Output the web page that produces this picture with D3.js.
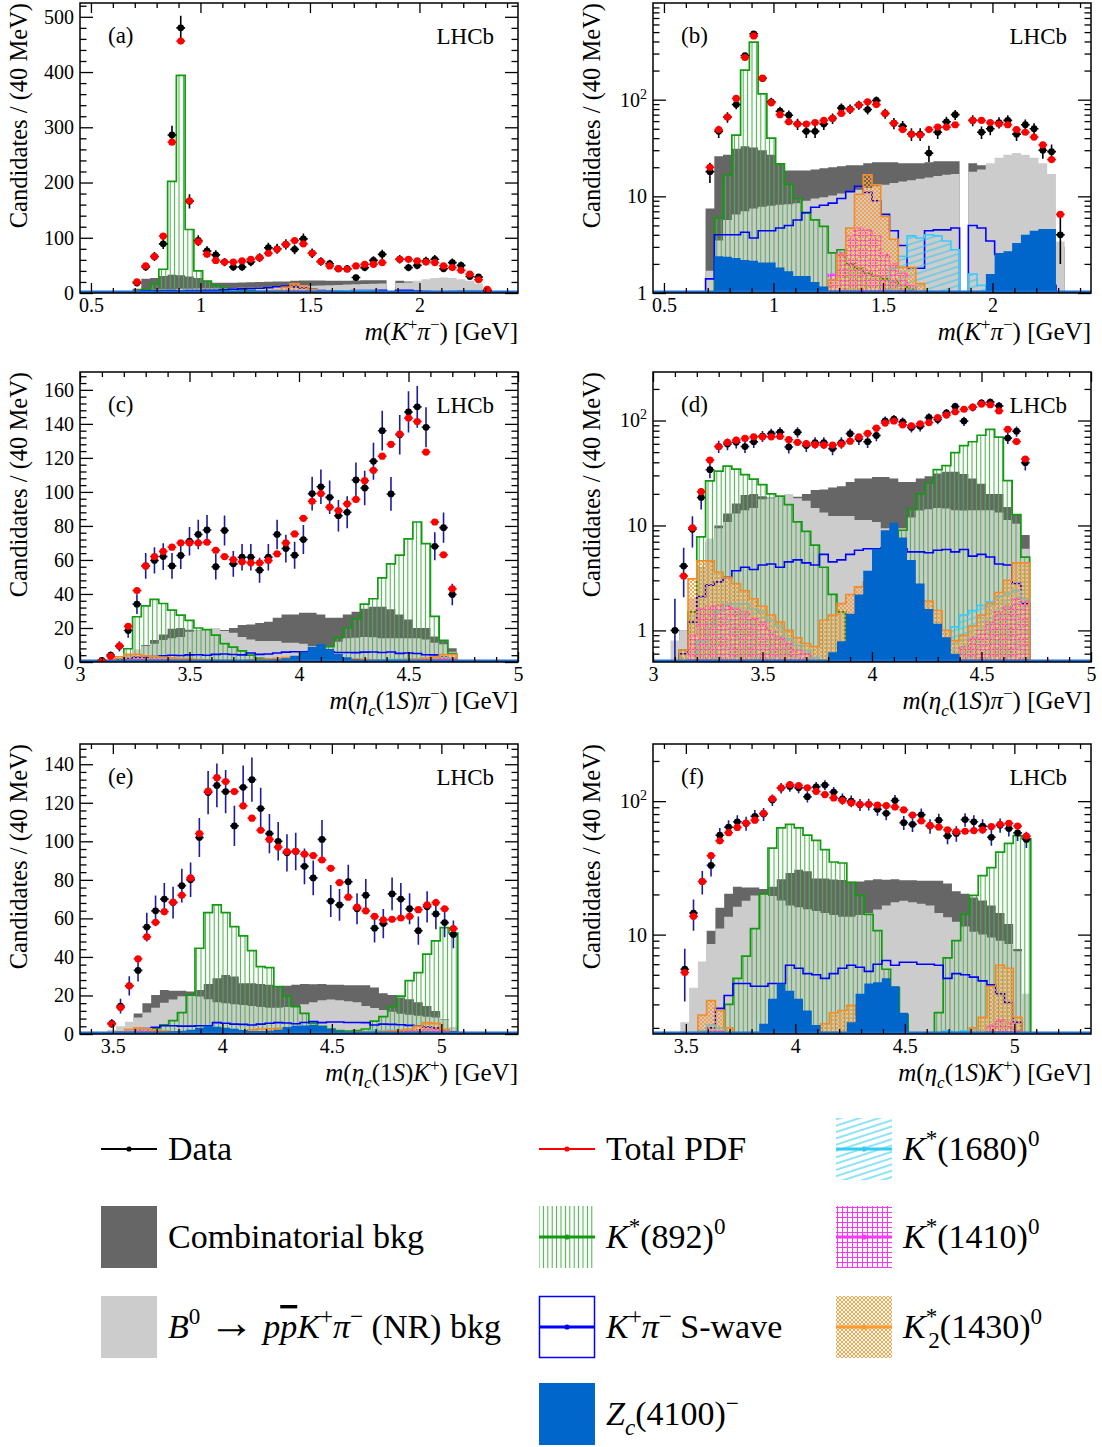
<!DOCTYPE html>
<html>
<head>
<meta charset="utf-8">
<script src="https://cdnjs.cloudflare.com/ajax/libs/d3/7.8.5/d3.min.js"></script>
<style>
  body { margin: 0; background: #fff; }
  svg text { font-family: "Liberation Serif", "Times New Roman", serif; fill: #000; }
</style>
</head>
<body>
<svg id="chart"></svg>
<script>
// bin centres (40 MeV bins)
const binW = 0.04;
const kpMass = [0.71,0.75,0.79,0.83,0.87,0.91,0.95,0.99,1.03,1.07,1.11,1.15,1.19,1.23,1.27,1.31,1.35,1.39,1.43,1.47,1.51,1.55,1.59,1.63,1.67,1.71,1.75,1.79,1.83,1.87,1.91,1.95,1.99,2.03,2.07,2.11,2.15,2.19,2.23,2.27,2.31];
const epMass = [3.10,3.14,3.18,3.22,3.26,3.30,3.34,3.38,3.42,3.46,3.50,3.54,3.58,3.62,3.66,3.70,3.74,3.78,3.82,3.86,3.90,3.94,3.98,4.02,4.06,4.10,4.14,4.18,4.22,4.26,4.30,4.34,4.38,4.42,4.46,4.50,4.54,4.58,4.62,4.66,4.70];
const ekMass = [3.495,3.535,3.575,3.615,3.655,3.695,3.735,3.775,3.815,3.855,3.895,3.935,3.975,4.015,4.055,4.095,4.135,4.175,4.215,4.255,4.295,4.335,4.375,4.415,4.455,4.495,4.535,4.575,4.615,4.655,4.695,4.735,4.775,4.815,4.855,4.895,4.935,4.975,5.015,5.055];

// m(K+ pi-)
const kpData  = [18,47,66,89,286,480,166,95,76,69,56,47,47,56,64,82,80,88,79,98,72,57,53,44,44,28,46,59,70,null,61,46,50,58,61,44,55,50,30,29,4];
const kpPdf   = [20,49,66,103,273,456,167,93,70,59,56,56,58,61,64,72,79,88,95,89,72,57,49,44,43,49,52,52,55,null,61,61,58,56,55,49,46,41,34,24,6.5];
const kpComb  = [7.5,26,27,31,33,32,30,27,22,18.5,18.5,18.5,19,19.5,20,20.5,21,21,22,22.5,22.5,22.5,22,22,22,22.5,23,23,23,0,22,21,17,14,12,10,8,6,5,4,3];
const kpNR    = [1.7,3.5,5.7,6.5,7,7.5,7.8,8,8.2,8.3,8.5,9,9.5,9.8,10.2,10.7,11.2,11.7,12.2,12.7,13.2,13.7,14.2,14.7,15.2,15.7,16.2,16.7,17,0,18,19,22,25,27,28,27,25,22,17,3.4];
const kpK892  = [0,6,16.5,43,202,394,115,40,21.7,13.3,9.5,6.7,5.7,4.9,2.6,2.8,2,1.8,1.6,1.5,1.4,1.3,1.2,1.1,1,0.9,0.8,0.8,0.7,0,0.6,0.5,0.5,0.4,0.4,0.3,0.3,0.3,0.2,0.2,0.2];
const kpSwave = [1.4,4,4,4,4.25,3.7,4.4,4.4,4.7,5,5.7,6.8,7.7,8.1,8.5,9.5,11.2,12.7,11,9,6.5,4.4,3.1,1.8,1.8,4.4,4.5,4.5,4.7,0,5,4.7,3.45,2.5,2.2,2,1.8,1.6,1.4,1.2,1];
const kpK1680 = [0,0,0,0,0,0,0,0,0,0,0,0,0,0,0,0,0,0,0,0,0,1.8,2.4,3.9,3.7,4,3.9,3.45,2.8,0,1.57,1.2,0,0,0,0,0,0,0,0,0];
const kpK1410 = [0,0,0,0,0,0,0,0,0,0,0,0,0,0,1.57,2.6,3.9,4.7,4.5,3.9,2.5,2,1.6,1.2,0,0,0,0,0,0,0,0,0,0,0,0,0,0,0,0,0];
const kpK1430 = [0,0,0,0,0,0,0,0,0,0,0,0,0,0,1.37,2.5,4.7,10.5,16.7,13.2,6.2,3.6,1.84,1.84,1.25,0,0,0,0,0,0,0,0,0,0,0,0,0,0,0,0];
const kpZc    = [0,2.4,2.37,2.3,2.2,2.15,2.07,2.07,1.84,1.68,1.5,1.5,1.3,1.17,1.05,0.9,0.8,0.7,0.6,0.5,0.5,0.5,0.5,0.5,0.5,0.5,0.5,0.5,0.5,0,0.6,0.8,1.57,2.6,2.7,3.3,4,4.4,4.6,4.6,0];

// m(eta_c(1S) pi-)
const epData  = [1,4.1,9.2,18.5,34,56.5,59.7,62,56.5,62.6,71,75,77.6,56,77.3,57.7,61.6,61.6,54,61.6,75,66.7,62.8,72,99,103,96.8,86,88,107,102.3,118,136,98.8,133.6,147,150,138,68,79,39.7];
const epPdf   = [0.4,3.3,9.5,21,42,56.5,62,65,67.5,70,70,70,70.4,65.7,62,60.2,58.9,58.3,58.3,59.7,63.6,70,75.3,84.5,94.5,99,91,89,93,95.6,106.6,112.7,121,128,134,143.4,141.4,123.4,82.3,63,43];
const epComb  = [0.5,1,2,4,7,10,13,16.2,19.5,20,19,18.5,18.5,19,18.8,20,21.8,22,23,23.7,26,28,28,29,29,28,26,26,28,29.5,31.3,32.5,32.5,31,28,25,20,20,15,12.6,8.1];
const epNR    = [0.8,1,2,4,7.5,9.4,10.8,13,14,14.7,17.8,18.2,19,20,18.2,17.2,14.7,13.3,12.3,12.3,12.3,11.3,11.3,10.8,9.4,8.4,9.4,11.9,13.9,14.3,14.7,14.5,14,13.9,14,14,14,13.3,11.3,10.4,6];
const epK892  = [0,0.65,1.5,7.8,26.6,33,36.8,34.4,30.5,27.6,24.5,20,19,15.8,10.8,8.8,6.5,4,2.2,1.5,0.8,0.7,0.7,0.8,1,3,9,14.3,20,25.4,34,37.2,49.5,57.7,62.8,72.4,82.3,69.6,26.8,12.7,5];
const epSwave = [0.3,0.6,1.2,2.1,2.7,2.9,3.2,3.7,4,3.8,4.2,4.3,4,4.5,4.7,4.4,4.2,5.3,4.5,4.7,5.3,5.8,6,6,6.1,6.1,6,5.6,5.6,5.5,5.8,5.9,5.6,5.9,5.1,5.3,5,4.3,4.2,2.8,1.8];
const epK1680 = [0.2,0.3,0.5,0.8,1.15,1.55,1.77,1.8,1.8,1.6,1.5,1.25,1.1,0.83,0.72,0.64,0.55,0.45,0.4,0.3,0.3,0.3,0.3,0.3,0.3,0.3,0.3,0.3,0.4,0.5,0.6,0.8,1.08,1.4,1.55,1.73,1.87,2.1,2.25,2.4,2];
const epK1410 = [0.2,0.4,0.9,1.6,1.7,1.75,1.7,1.6,1.5,1.3,1.2,1,0.85,0.75,0.65,0.6,0.5,0.4,0.3,0.3,0.3,0.3,0.3,0.3,0.3,0.3,0.3,0.3,0.3,0.3,0.3,0.4,0.5,0.7,0.85,1,1.2,1.5,1.7,2,1.9];
const epK1430 = [0.4,0.65,3.1,4.6,4.6,3.6,3.2,2.8,2.4,2,1.7,1.4,1.2,1,0.85,0.75,0.7,1.25,1.4,1.8,2.2,2.6,2.9,2.5,2.3,2.2,2.1,2,1.9,1.9,1.55,1,0.8,0.9,1.1,1.4,1.8,2.3,3,4.4,4.4];
const epZc    = [0.3,0.3,0.3,0.3,0.3,0.3,0.3,0.3,0.3,0.3,0.3,0.3,0.3,0.3,0.3,0.3,0.3,0.4,0.62,0.79,1.44,2.2,3.7,6,9,10.6,7.7,4.7,2.8,1.6,1.16,0.86,0.6,0.5,0.4,0.3,0.3,0.3,0.3,0.3,0.3];

// m(eta_c(1S) K+)
const ekData  = [5.5,14.5,25,33,55.5,63.9,70,68.2,77,80,102,125.3,129,125.8,108,128,132,117,104,100,94,94.7,87,81,101,69,67,79,65,72,54.9,57.3,72.7,70,65,53.6,66,62.3,57.8,51.7];
const ekPdf   = [5.2,13.7,25,39,50.4,58,63.5,68.4,72,81,104,126,133,131,125.8,118.4,112,105.7,101,97,94.7,94.8,93.3,92.6,90.3,86,78.6,71,65.8,63.9,61,59.2,59.5,60.2,61,64.5,67,68.2,65,54.7];
const ekComb  = [0.5,1.5,4,10.7,15.9,20.2,22.8,22.5,22.5,22,22.8,26,28.9,30.6,29.8,26.3,26.3,25.9,25.6,24.9,25,25.5,26,25.8,26,25.5,25.5,25.3,25.3,25.3,24.1,21.1,20.2,19,18,16.5,14.5,12,7.8,3];
const ekNR    = [2.2,4,6.3,8.5,11.1,13.6,16.2,17.9,19.6,20,19.5,18,16.5,16,15.5,15,14.5,14,13.6,13.6,14,14.5,15.4,16.5,17.5,17.9,17.5,17,16.5,14.5,13.5,12.5,11.5,10.5,10,9.5,9,8.5,7.5,3.6];
const ekK892  = [0,0,0,0.8,1.5,3,4.7,6.9,11.1,20.2,44.5,63,67,63,55.7,50.9,43.3,35,34.4,24.6,19.7,14.2,10.7,5.5,4,2.5,1.8,1.5,1.8,2.6,6.7,9,14.2,19.7,27.7,31.8,41.5,48.3,55.2,52.3];
const ekSwave = [0.6,0.9,1.4,2,2.8,3.5,4.3,4.3,4.1,4.1,4.3,4.3,5.9,5.6,5.1,5,4.7,5.1,5.6,5.9,5.7,5.3,6,6.4,5.9,6.2,6.2,6,6,5.9,4.7,5.1,5,4.8,4.5,4.2,3.6,3.1,2.2,1.2];
const ekK1680 = [0.3,0.8,1.9,2.1,2,1.6,1.3,1,0.8,0.6,0.5,0.5,0.5,0.5,0.5,0.5,0.5,0.5,0.5,0.5,0.5,0.5,0.5,0.5,0.5,0.5,0.5,0.6,0.8,1.2,1.9,1.7,1.9,1.95,1.8,1.6,1.4,1.2,1,0.8];
const ekK1410 = [0.3,0.6,1.2,1.9,1.9,1.5,1.2,1,0.8,0.7,0.6,0.5,0.5,0.5,0.5,0.5,0.5,0.5,0.5,0.5,0.5,0.5,0.5,0.5,0.5,0.5,0.5,0.5,0.6,0.7,0.8,1,1.2,1.5,1.8,2.1,2.3,2.2,1.9,0.8];
const ekK1430 = [0.5,1,2.5,3.2,2.7,2,1.5,1.2,1,0.9,0.8,0.8,0.9,1,1.2,1.5,2.15,2.6,2.7,2.95,2.5,2,1.5,1.2,1,0.9,0.8,0.8,0.9,1,1.2,1.4,1.7,2,2.4,4.1,5.9,5.6,2.4,0.8];
const ekZc    = [0.5,0.5,0.5,0.5,0.8,1,1.2,1.4,1.7,2.15,3.3,4.3,3.8,3.3,2.7,2.1,1.6,1.5,1.7,2.2,3.6,4.3,4.4,4.7,4.1,2.6,1.5,1,0.6,0.5,0.5,0.5,0.5,0.5,0.5,0.5,0.5,0.5,0.5,0.5];

// axis ticks
const kpXTicks = [0.5, 1, 1.5, 2];
const epXTicks = [3, 3.5, 4, 4.5, 5];
const ekXTicks = [3.5, 4, 4.5, 5];
const linYTicksA = [0, 100, 200, 300, 400, 500];
const linYTicksC = [0, 20, 40, 60, 80, 100, 120, 140, 160];
const linYTicksE = [0, 20, 40, 60, 80, 100, 120, 140];

function makeSet(mass, data, pdf, comb, nr, k892, swave, k1680, k1410, k1430, zc) {
    return { mass, data, pdf, comb, nr, k892, swave, k1680, k1410, k1430, zc };
}
const kp = makeSet(kpMass, kpData, kpPdf, kpComb, kpNR, kpK892, kpSwave, kpK1680, kpK1410, kpK1430, kpZc);
const ep = makeSet(epMass, epData, epPdf, epComb, epNR, epK892, epSwave, epK1680, epK1410, epK1430, epZc);
const ek = makeSet(ekMass, ekData, ekPdf, ekComb, ekNR, ekK892, ekSwave, ekK1680, ekK1410, ekK1430, ekZc);

const titleKp = [{t:"m",i:1},{t:"("},{t:"K",i:1},{t:"+",sup:1},{t:"π",i:1},{t:"−",sup:1},{t:") [GeV]"}];
const titleEp = [{t:"m",i:1},{t:"("},{t:"η",i:1},{t:"c",i:1,sub:1},{t:"(1"},{t:"S",i:1},{t:")"},{t:"π",i:1},{t:"−",sup:1},{t:") [GeV]"}];
const titleEk = [{t:"m",i:1},{t:"("},{t:"η",i:1},{t:"c",i:1,sub:1},{t:"(1"},{t:"S",i:1},{t:")"},{t:"K",i:1},{t:"+",sup:1},{t:") [GeV]"}];

// 画布
const svg = d3.select("#chart").attr("width", 1102).attr("height", 1447);
const defs = svg.append("defs");

function pattern(id, w, h, d, color, sw, tr) {
    const p = defs.append("pattern").attr("id", id)
        .attr("patternUnits", "userSpaceOnUse").attr("width", w).attr("height", h);
    if (tr) p.attr("patternTransform", tr);
    p.append("path").attr("d", d).attr("stroke", color).attr("stroke-width", sw).attr("fill", "none");
}
pattern("hK892", 4.4, 8, "M2.2,0V8", "#4caf4c", 1.1);
pattern("hK1680", 8, 6, "M0,3H8", "#33ccee", 1.1, "rotate(-18)");
pattern("hK1410", 5, 5, "M0,2.5H5M2.5,0V5", "#ff33ff", 1);
pattern("hK1430", 4, 4, "M0,0L4,4M4,0L0,4", "#ff9933", 0.9);

// 组件样式（绘制顺序）
const comps = [
    { key: "comb",  fill: "#666666", stroke: "none" },
    { key: "nr",    fill: "#cccccc", stroke: "none" },
    { key: "k892",  fill: "url(#hK892)", stroke: "#139a13", sw: 1.7 },
    { key: "swave", fill: "none", stroke: "#0000ff", sw: 1.6 },
    { key: "k1680", fill: "url(#hK1680)", stroke: "#33ccff", sw: 1.6 },
    { key: "k1410", fill: "url(#hK1410)", stroke: "#ff33ff", sw: 1.3, dash: "4,2" },
    { key: "k1430", fill: "url(#hK1430)", stroke: "#f28c28", sw: 1.6 },
    { key: "zc",    fill: "#0066cc", stroke: "none" }
];

function richText(sel, parts, size) {
    let shift = 0;
    parts.forEach(function (p) {
        const s = p.sup ? -0.42 * size : (p.sub ? 0.28 * size : 0);
        const ts = sel.append("tspan").text(p.t).attr("dy", s - shift);
        shift = s;
        if (p.i) ts.attr("font-style", "italic");
        if (p.sup || p.sub) ts.attr("font-size", size * 0.68);
        if (p.big) ts.attr("font-size", size * p.big);
        if (p.dx) ts.attr("dx", p.dx);
        if (p.over) ts.style("text-decoration", "overline");
    });
}

const W = 438, H = 290;

function drawPanel(cfg) {
    const ds = cfg.ds;
    const g = svg.append("g").attr("transform", "translate(" + cfg.left + "," + cfg.top + ")");
    const x = d3.scaleLinear().domain(cfg.xd).range([0, W]);
    const y = (cfg.log ? d3.scaleLog() : d3.scaleLinear()).domain(cfg.yd).range([H, 0]);
    const lo = cfg.yd[0], hi = cfg.yd[1];
    const yv = function (v) { return (v == null || v <= lo) ? H : y(Math.min(v, hi)); };

    const clipId = "clip" + cfg.id;
    defs.append("clipPath").attr("id", clipId).append("rect").attr("width", W).attr("height", H);
    const plot = g.append("g").attr("clip-path", "url(#" + clipId + ")");

    // 直方图组件
    function stepPath(vals) {
        let p = "M" + x(ds.mass[0] - binW / 2) + "," + H;
        ds.mass.forEach(function (m, i) {
            const yy = yv(vals[i]);
            p += "L" + x(m - binW / 2) + "," + yy + "L" + x(m + binW / 2) + "," + yy;
        });
        return p + "L" + x(ds.mass[ds.mass.length - 1] + binW / 2) + "," + H;
    }
    comps.forEach(function (c) {
        plot.append("path")
            .attr("d", stepPath(ds[c.key]))
            .attr("fill", c.fill)
            .attr("stroke", c.stroke)
            .attr("stroke-width", c.sw || 0)
            .attr("stroke-dasharray", c.dash || null)
            .attr("stroke-linejoin", "miter");
    });

    // 底部基线
    plot.append("line")
        .attr("x1", x(cfg.xd[0])).attr("x2", x(cfg.xd[1]))
        .attr("y1", H - 1.2).attr("y2", H - 1.2)
        .attr("stroke", "#1a6fd6").attr("stroke-width", 2.6);

    // 数据点
    const errColor = cfg.errColor;
    const pts = ds.mass.map(function (m, i) { return { m: m, v: ds.data[i], f: ds.pdf[i] }; });
    const dataPts = pts.filter(function (d) { return d.v != null && d.v > lo; });
    plot.selectAll(".err").data(dataPts).enter().append("path")
        .attr("d", function (d) {
            const e = Math.sqrt(d.v);
            const xc = x(d.m);
            return "M" + xc + "," + yv(d.v - e) + "V" + yv(d.v + e) +
                "M" + x(d.m - binW / 2) + "," + yv(d.v) + "H" + x(d.m + binW / 2);
        })
        .attr("stroke", errColor).attr("stroke-width", 1.6).attr("fill", "none");
    plot.selectAll(".dot").data(dataPts).enter().append("circle")
        .attr("cx", function (d) { return x(d.m); })
        .attr("cy", function (d) { return yv(d.v); })
        .attr("r", 3.4).attr("fill", "#000");

    const pdfPts = pts.filter(function (d) { return d.f != null && d.f > lo; });
    plot.selectAll(".pbar").data(pdfPts).enter().append("path")
        .attr("d", function (d) { return "M" + x(d.m - binW / 2) + "," + yv(d.f) + "H" + x(d.m + binW / 2); })
        .attr("stroke", "#ff0000").attr("stroke-width", 1.6);
    plot.selectAll(".pdot").data(pdfPts).enter().append("circle")
        .attr("cx", function (d) { return x(d.m); })
        .attr("cy", function (d) { return yv(d.f); })
        .attr("r", 3.6).attr("fill", "#ff0000");

    // 坐标轴
    const xMinor = d3.range(Math.ceil(cfg.xd[0] * 10) / 10, cfg.xd[1] + 1e-9, 0.1)
        .filter(function (t) { return cfg.xTicks.every(function (m) { return Math.abs(m - t) > 1e-6; }); });
    let yMajor, yMinor, yFmt;
    if (cfg.log) {
        yMajor = cfg.yTicks;
        yMinor = [];
        [0.1, 1, 10, 100].forEach(function (dec) {
            for (let k = 2; k <= 9; k++) {
                const v = dec * k;
                if (v > lo && v < hi) yMinor.push(v);
            }
        });
        yFmt = function (v) { return String(v); };
    } else {
        yMajor = cfg.yTicks;
        const step = yMajor[1] - yMajor[0];
        yMinor = d3.range(0, hi, step / 5).filter(function (t) { return Math.abs(t / step - Math.round(t / step)) > 1e-6; });
        yFmt = d3.format("d");
    }

    function styleAxis(a) {
        a.select(".domain").remove();
        a.selectAll("line").attr("stroke", "#000").attr("stroke-width", 1.3);
        a.selectAll("text").attr("font-size", 20).attr("font-family", "Liberation Serif, serif");
        return a;
    }
    styleAxis(g.append("g").attr("transform", "translate(0," + H + ")")
        .call(d3.axisBottom(x).tickValues(cfg.xTicks).tickSize(-10).tickPadding(5).tickFormat(d3.format(""))));
    styleAxis(g.append("g").attr("transform", "translate(0," + H + ")")
        .call(d3.axisBottom(x).tickValues(xMinor).tickSize(-5).tickFormat("")));
    styleAxis(g.append("g").call(d3.axisTop(x).tickValues(cfg.xTicks).tickSize(-10).tickFormat("")));
    styleAxis(g.append("g").call(d3.axisTop(x).tickValues(xMinor).tickSize(-5).tickFormat("")));
    const yAx = styleAxis(g.append("g").call(d3.axisLeft(y).tickValues(yMajor).tickSize(-13).tickPadding(6).tickFormat(yFmt)));
    if (cfg.log) {
        // 10^2 标签：上标
        yAx.selectAll("text").filter(function (d) { return d === 100; })
            .text("10").append("tspan").attr("dy", -8).attr("font-size", 14).text("2");
    }
    styleAxis(g.append("g").call(d3.axisLeft(y).tickValues(yMinor).tickSize(-6.5).tickFormat("")));
    styleAxis(g.append("g").attr("transform", "translate(" + W + ",0)")
        .call(d3.axisRight(y).tickValues(yMajor).tickSize(-13).tickFormat("")));
    styleAxis(g.append("g").attr("transform", "translate(" + W + ",0)")
        .call(d3.axisRight(y).tickValues(yMinor).tickSize(-6.5).tickFormat("")));

    g.append("rect").attr("width", W).attr("height", H)
        .attr("fill", "none").attr("stroke", "#000").attr("stroke-width", 1.5);

    // 标题与标签
    g.append("text")
        .attr("transform", "translate(-53,0) rotate(-90)")
        .attr("text-anchor", "end").attr("font-size", 24.5)
        .text("Candidates / (40 MeV)");
    richText(g.append("text").attr("x", W).attr("y", H + 47)
        .attr("text-anchor", "end").attr("font-size", 25), cfg.title, 25);
    g.append("text").attr("x", 28).attr("y", 40).attr("font-size", 23).text(cfg.tag);
    g.append("text").attr("x", W - 24).attr("y", 41).attr("font-size", 23)
        .attr("text-anchor", "end").text("LHCb");
}

const errBlue = "#1c1ca0";
drawPanel({ id: "a", tag: "(a)", ds: kp, log: false, left: 80, top: 3, xd: [0.45, 2.45], yd: [0, 525], xTicks: kpXTicks, yTicks: linYTicksA, title: titleKp, errColor: "#000" });
drawPanel({ id: "b", tag: "(b)", ds: kp, log: true, left: 653, top: 3, xd: [0.45, 2.45], yd: [1, 1000], xTicks: kpXTicks, yTicks: [1, 10, 100], title: titleKp, errColor: "#000" });
drawPanel({ id: "c", tag: "(c)", ds: ep, log: false, left: 80, top: 372, xd: [3, 5], yd: [0, 170.5], xTicks: epXTicks, yTicks: linYTicksC, title: titleEp, errColor: errBlue });
drawPanel({ id: "d", tag: "(d)", ds: ep, log: true, left: 653, top: 372, xd: [3, 5], yd: [0.5, 290], xTicks: epXTicks, yTicks: [1, 10, 100], title: titleEp, errColor: errBlue });
drawPanel({ id: "e", tag: "(e)", ds: ek, log: false, left: 80, top: 744, xd: [3.35, 5.35], yd: [0, 150.5], xTicks: ekXTicks, yTicks: linYTicksE, title: titleEk, errColor: errBlue });
drawPanel({ id: "f", tag: "(f)", ds: ek, log: true, left: 653, top: 744, xd: [3.35, 5.35], yd: [1.8, 268], xTicks: ekXTicks, yTicks: [10, 100], title: titleEk, errColor: errBlue });

// 图例
const legendItems = [
    { col: 0, row: 0, type: "line", color: "#000", text: [{t:"Data"}] },
    { col: 1, row: 0, type: "line", color: "#ff0000", text: [{t:"Total PDF"}] },
    { col: 2, row: 0, type: "hatch", fill: "url(#hK1680)", color: "#33ccee", text: [{t:"K",i:1},{t:"*",sup:1},{t:"(1680)"},{t:"0",sup:1}] },
    { col: 0, row: 1, type: "box", fill: "#666666", text: [{t:"Combinatorial bkg"}] },
    { col: 1, row: 1, type: "hatch", fill: "url(#hK892)", color: "#139a13", text: [{t:"K",i:1},{t:"*",sup:1},{t:"(892)"},{t:"0",sup:1}] },
    { col: 2, row: 1, type: "hatch", fill: "url(#hK1410)", color: "#ff33ff", text: [{t:"K",i:1},{t:"*",sup:1},{t:"(1410)"},{t:"0",sup:1}] },
    { col: 0, row: 2, type: "box", fill: "#cccccc", text: [{t:"B",i:1},{t:"0",sup:1},{t:" "},{t:"→",big:1.35},{t:" "},{t:"p",i:1},{t:"p",i:1,over:1},{t:"K",i:1},{t:"+",sup:1},{t:"π",i:1},{t:"−",sup:1},{t:" (NR) bkg"}] },
    { col: 1, row: 2, type: "outline", color: "#0000ff", text: [{t:"K",i:1},{t:"+",sup:1},{t:"π",i:1},{t:"−",sup:1},{t:" S-wave"}] },
    { col: 2, row: 2, type: "hatch", fill: "url(#hK1430)", color: "#ff9933", text: [{t:"K",i:1},{t:"*",sup:1},{t:"2",sub:1,dx:-9},{t:"(1430)"},{t:"0",sup:1}] },
    { col: 1, row: 3, type: "box", fill: "#0066cc", text: [{t:"Z",i:1},{t:"c",i:1,sub:1},{t:"(4100)"},{t:"−",sup:1}] }
];
const legX = [101, 539, 836];
const legY = [1149, 1237, 1327, 1414];
const lg = svg.append("g");
legendItems.forEach(function (it) {
    const x0 = legX[it.col], yc = legY[it.row];
    const bw = 56, bh = 62;
    if (it.type === "box" || it.type === "hatch") {
        lg.append("rect").attr("x", x0).attr("y", yc - bh / 2).attr("width", bw).attr("height", bh).attr("fill", it.fill);
    } else if (it.type === "outline") {
        lg.append("rect").attr("x", x0 + 0.5).attr("y", yc - bh / 2 + 0.5).attr("width", bw - 1).attr("height", bh - 1)
            .attr("fill", "none").attr("stroke", it.color).attr("stroke-width", 1.5);
    }
    if (it.type !== "box") {
        lg.append("line").attr("x1", x0).attr("x2", x0 + bw).attr("y1", yc).attr("y2", yc)
            .attr("stroke", it.color).attr("stroke-width", it.type === "line" ? 2 : 3);
        lg.append("circle").attr("cx", x0 + bw / 2).attr("cy", yc).attr("r", 2.6).attr("fill", it.color);
    }
    richText(lg.append("text").attr("x", x0 + 67).attr("y", yc + 11).attr("font-size", 34), it.text, 34);
});
</script>
</body>
</html>
